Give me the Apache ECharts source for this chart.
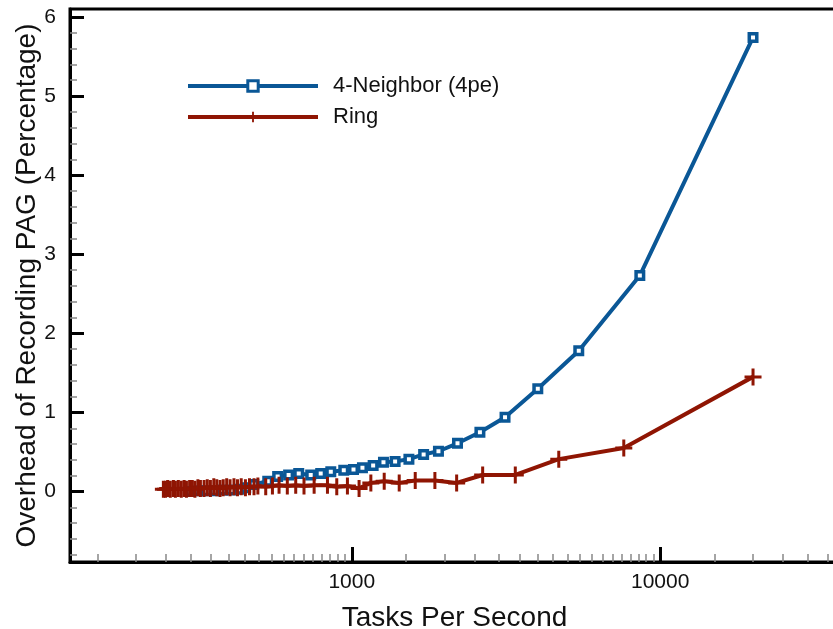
<!DOCTYPE html>
<html>
<head>
<meta charset="utf-8">
<script src="https://cdn.jsdelivr.net/npm/echarts@6/dist/echarts.min.js"></script>
<style>
  html, body { margin: 0; padding: 0; background: #fff; }
</style>
</head>
<body>
<div id="chart" style="width: 833px; height: 629px"></div>
<script>
// tasks per second vs. overhead (%)
const neighborTasks = [300, 319, 338, 359, 381, 405, 430, 453, 481, 534, 575, 624, 673, 736, 793, 855, 942,
  1013, 1083, 1173, 1267, 1382, 1532, 1710, 1910, 2202, 2603, 3140, 4010, 5445, 8590, 20000];
const neighborOverhead = [0.00, 0.01, 0.01, 0.01, 0.02, 0.02, 0.03, 0.05, 0.09, 0.13, 0.19, 0.21, 0.23, 0.21, 0.23, 0.25, 0.27,
  0.28, 0.30, 0.33, 0.37, 0.38, 0.41, 0.47, 0.51, 0.61, 0.75, 0.94, 1.30, 1.78, 2.73, 5.74];

const ringTasks = [245, 249, 253, 258, 264, 268, 274, 280, 286, 291, 298, 304, 310, 317, 323, 332, 340, 348, 357, 365,
  374, 383, 393, 403, 415, 426, 438, 452, 466, 482, 496, 526, 553, 581, 618, 658, 700, 755, 834, 894, 968,
  1056, 1153, 1274, 1425, 1606, 1860, 2188, 2657, 3390, 4690, 7620, 20000];
const ringOverhead = [0.03, 0.03, 0.04, 0.03, 0.04, 0.03, 0.04, 0.03, 0.04, 0.03, 0.04, 0.04, 0.03, 0.05, 0.04, 0.04, 0.05, 0.04, 0.06, 0.05,
  0.04, 0.05, 0.06, 0.05, 0.06, 0.05, 0.06, 0.05, 0.06, 0.06, 0.07, 0.06, 0.07, 0.08, 0.07, 0.08, 0.07, 0.08, 0.08, 0.06, 0.07,
  0.04, 0.11, 0.13, 0.11, 0.14, 0.14, 0.11, 0.21, 0.21, 0.41, 0.55, 1.45];

const xMajorTicks = [1000, 10000];
const yMajorTicks = [0, 1, 2, 3, 4, 5, 6];

// minor ticks: every half step of each decade, every 0.2 on y
const xMinorTicks = [];
[[150, 950, 50], [1500, 9500, 500], [15000, 35000, 5000]].forEach(([a, b, s]) => {
  for (let v = a; v <= b; v += s) xMinorTicks.push(v);
});
const yMinorTicks = [];
for (let i = -4; i <= 30; i++) {
  if (i % 5 !== 0) yMinorTicks.push(+(i * 0.2).toFixed(1));
}

const BLUE = '#0a5796';
const RED = '#8f1503';
const FONT = 'Liberation Sans';

const chart = echarts.init(document.getElementById('chart'));

const xBase = {
  type: 'log',
  logBase: 10,
  min: 122,
  max: 38000,
  position: 'bottom',
  splitLine: { show: false },
  minorTick: { show: false },
};
const yBase = {
  type: 'value',
  min: -0.89,
  max: 6.1,
  position: 'left',
  splitLine: { show: false },
};

const option = {
  animation: false,
  grid: {
    left: 70, top: 9, bottom: 67, right: -6,
    outerBoundsMode: 'none',
    containLabel: false,
    show: true, borderColor: '#000', borderWidth: 3, backgroundColor: 'transparent'
  },
  legend: {
    orient: 'vertical',
    left: 186,
    top: 75,
    padding: 0,
    itemWidth: 130,
    itemHeight: 13,
    itemGap: 9,
    textStyle: { fontFamily: FONT, fontSize: 22, color: '#111', padding: [0, 0, 0, 10] },
    data: [
      { name: '4-Neighbor (4pe)', lineStyle: { width: 4 }, itemStyle: { borderWidth: 3 } },
      { name: 'Ring', lineStyle: { width: 4 }, itemStyle: { borderWidth: 0 } }
    ]
  },
  xAxis: [
    Object.assign({}, xBase, {
      name: 'Tasks Per Second',
      nameLocation: 'middle',
      nameGap: 42,
      nameMoveOverlap: false,
      nameTextStyle: { fontFamily: FONT, fontSize: 28, color: '#111' },
      axisLine: { onZero: false, lineStyle: { color: '#000', width: 3 } },
      axisTick: { inside: true, length: 15, customValues: xMajorTicks, lineStyle: { color: '#000', width: 3 } },
      axisLabel: {
        customValues: xMajorTicks, margin: 10,
        fontFamily: FONT, fontSize: 21, color: '#111',
        formatter: v => String(Math.round(v))
      }
    }),
    Object.assign({}, xBase, {
      axisLine: { show: false, onZero: false },
      axisTick: { inside: true, length: 8, customValues: xMinorTicks, lineStyle: { color: '#888', width: 1.5 } },
      axisLabel: { show: false }
    })
  ],
  yAxis: [
    Object.assign({}, yBase, {
      name: 'Overhead of Recording PAG (Percentage)',
      nameLocation: 'middle',
      nameGap: 29,
      nameMoveOverlap: false,
      nameTextStyle: { fontFamily: FONT, fontSize: 28, color: '#111' },
      axisLine: { onZero: false, lineStyle: { color: '#000', width: 3 } },
      axisTick: { inside: true, length: 14, customValues: yMajorTicks, lineStyle: { color: '#000', width: 3 } },
      axisLabel: { customValues: yMajorTicks, margin: 14, fontFamily: FONT, fontSize: 21, color: '#111' }
    }),
    Object.assign({}, yBase, {
      axisLine: { show: false, onZero: false },
      axisTick: { inside: true, length: 7, customValues: yMinorTicks, lineStyle: { color: '#888', width: 1.5 } },
      axisLabel: { show: false }
    })
  ],
  series: [
    {
      name: '4-Neighbor (4pe)',
      type: 'line',
      xAxisIndex: 0,
      yAxisIndex: 0,
      data: neighborTasks.map((t, i) => [t, neighborOverhead[i]]),
      symbol: 'rect',
      symbolSize: 7.5,
      showAllSymbol: true,
      lineStyle: { color: BLUE, width: 4 },
      itemStyle: { color: '#fff', borderColor: BLUE, borderWidth: 3.5 }
    },
    {
      name: 'Ring',
      type: 'line',
      xAxisIndex: 0,
      yAxisIndex: 0,
      data: ringTasks.map((t, i) => [t, ringOverhead[i]]),
      symbol: 'path://M7,0h3v7h7v3h-7v7h-3v-7h-7v-3h7z',
      symbolSize: 17,
      showAllSymbol: true,
      lineStyle: { color: RED, width: 4 },
      itemStyle: { color: RED, borderWidth: 0 }
    }
  ]
};

chart.setOption(option);
</script>
</body>
</html>
